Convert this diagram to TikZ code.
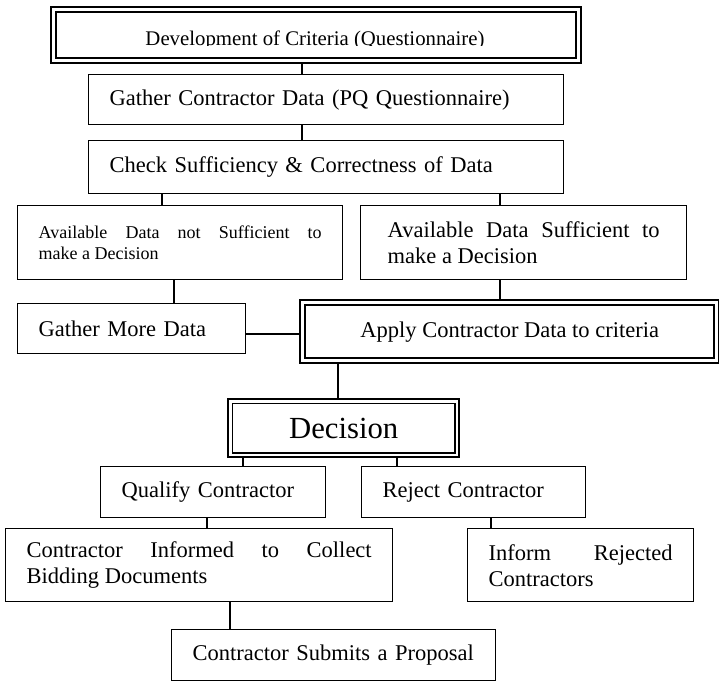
\documentclass[tikz,border=0pt]{standalone}
\usepackage{fontspec}
\setmainfont{Liberation Serif}
\hyphenpenalty=10000
\exhyphenpenalty=10000
\begin{document}
\begin{tikzpicture}[x=1pt,y=-1pt,
  box/.style={draw,line width=1.4pt,rectangle,anchor=north west,inner xsep=21pt,inner ysep=0pt,
    align=left,font=\fontsize{22.5}{26}\selectfont},
  jbox/.style={box,align=justify},
  dblout/.style={draw,line width=2.4pt,rectangle,anchor=north west,inner sep=0pt,align=center},
  dblin/.style={line width=1.9pt},
  conn/.style={line width=1.3pt}]
\fill[white] (0,0) rectangle (719,681);
\useasboundingbox (0,0) rectangle (719,681);

% Development of Criteria (double box, text clipped at baseline)
\node[dblout,minimum width=530pt,minimum height=56pt] (dev) at (50,6) {};
\draw[dblin] ([shift={(6,6)}]dev.north west) rectangle ([shift={(-6,-6)}]dev.south east);
\begin{scope}
  \clip (56,13) rectangle (573,45);
  \node[anchor=base,inner sep=0pt,font=\fontsize{20.8}{24}\selectfont] (devtext) at (315,45) {Development of Criteria (Questionnaire)};
\end{scope}

\node[box,minimum width=475pt,minimum height=50pt,text width=433pt] (gather) at (88,74) {Gather Contractor Data (PQ Questionnaire)};
\node[box,minimum width=475pt,minimum height=53pt,text width=433pt] (check) at (88,140) {Check Sufficiency \& Correctness of Data};

\node[jbox,minimum width=325pt,minimum height=74pt,text width=283pt,font=\fontsize{18}{21.7}\selectfont] (nsuff) at (17,205) {Available Data not Sufficient to\linebreak make a Decision};
\node[jbox,minimum width=326pt,minimum height=74pt,text width=272pt,inner xsep=27pt] (suff) at (360,205) {Available Data Sufficient to\linebreak make a Decision};

\node[box,minimum width=228pt,minimum height=50pt,text width=186pt] (more) at (17,303) {Gather More Data};

% Apply (double box)
\node[dblout,minimum width=419pt,minimum height=63pt,font=\fontsize{22.5}{26}\selectfont] (apply) at (299,299) {Apply Contractor Data to criteria};
\draw[dblin] ([shift={(6,6)}]apply.north west) rectangle ([shift={(-6,-6)}]apply.south east);

% Decision (double box)
\node[dblout,minimum width=231pt,minimum height=58pt,font=\fontsize{30.7}{34}\selectfont] (dec) at (227,398) {Decision};
\draw[dblin] ([shift={(5.5,5.5)}]dec.north west) rectangle ([shift={(-5.5,-5.5)}]dec.south east);

\node[box,minimum width=225pt,minimum height=51pt,text width=183pt] (qual) at (100,466) {Qualify Contractor};
\node[box,minimum width=224pt,minimum height=51pt,text width=182pt] (rej) at (361,466) {Reject Contractor};

\node[jbox,minimum width=387pt,minimum height=73pt,text width=345pt] (informed) at (5,528) {Contractor Informed to Collect\linebreak Bidding Documents};
\node[jbox,minimum width=226pt,minimum height=73pt,text width=184pt] (informrej) at (467,528) {Inform Rejected\linebreak Contractors};

\node[box,minimum width=324pt,minimum height=51pt,text width=282pt] (submit) at (171,629) {Contractor Submits a Proposal};

% connector positions
\coordinate (xa) at (302,0);
\coordinate (xb) at (162,0);
\coordinate (xc) at (500,0);
\coordinate (xd) at (174,0);
\coordinate (xe) at (338,0);
\coordinate (xf) at (243,0);
\coordinate (xg) at (397,0);
\coordinate (xh) at (207,0);
\coordinate (xi) at (491,0);
\coordinate (xj) at (230,0);
\coordinate (ya) at (0,334);

\draw[conn] (dev.south -| xa) -- (gather.north -| xa);
\draw[conn] (gather.south -| xa) -- (check.north -| xa);
\draw[conn] (check.south -| xb) -- (nsuff.north -| xb);
\draw[conn] (check.south -| xc) -- (suff.north -| xc);
\draw[conn] (nsuff.south -| xd) -- (more.north -| xd);
\draw[conn] (suff.south -| xc) -- (apply.north -| xc);
\draw[conn] (more.east |- ya) -- (apply.west |- ya);
\draw[conn] (apply.south -| xe) -- (dec.north -| xe);
\draw[conn] (dec.south -| xf) -- (qual.north -| xf);
\draw[conn] (dec.south -| xg) -- (rej.north -| xg);
\draw[conn] (qual.south -| xh) -- (informed.north -| xh);
\draw[conn] (rej.south -| xi) -- (informrej.north -| xi);
\draw[conn] (informed.south -| xj) -- (submit.north -| xj);
\end{tikzpicture}
\end{document}
